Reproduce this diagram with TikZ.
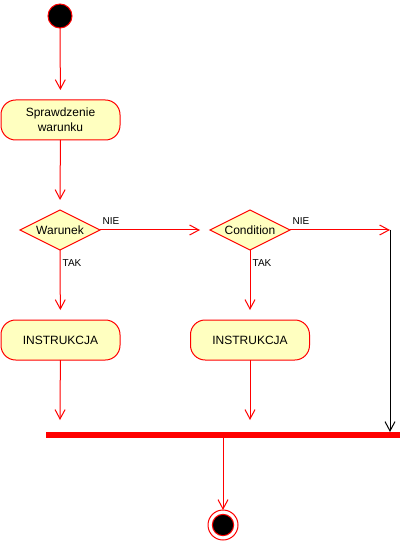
\documentclass[tikz,border=0pt]{standalone}
\usepackage{fontspec}
\setmainfont{Liberation Sans}
\usetikzlibrary{arrows.meta,shapes.geometric}
\definecolor{actfill}{HTML}{FFFFC0}
\definecolor{actred}{HTML}{FF0000}
\begin{document}
\begin{tikzpicture}[x=0.75pt,y=-0.75pt,
  every node/.style={inner sep=0pt,outer sep=0pt},
  flow/.style={draw=actred,line width=0.75pt,-{Straight Barb[length=7pt,width=7.5pt]}},
  gap/.style={shorten >=7.5pt},
  flowblack/.style={draw=black,line width=0.75pt,-{Straight Barb[length=7pt,width=7.5pt]}},
  activity/.style={rectangle,rounded corners=11pt,draw=actred,fill=actfill,line width=0.75pt,
     minimum width=89.25pt,minimum height=30pt,align=center,font=\fontsize{9pt}{11pt}\selectfont},
  decision/.style={diamond,draw=actred,fill=actfill,line width=0.75pt,
     minimum width=60pt,minimum height=30pt},
  dlabel/.style={font=\fontsize{9pt}{11pt}\selectfont},
  guard/.style={font=\fontsize{7.5pt}{9pt}\selectfont},
]
\useasboundingbox (0,0) rectangle (405,541);

\node[circle,fill=black,draw=actred,line width=0.75pt,minimum size=18pt] (start) at (60,16) {};
\node[activity] (check) at (60.5,120) {Sprawdzenie\\warunku};
\node[decision] (war) at (60,230) {};
\node[dlabel] at (war.center) {Warunek};
\node[decision] (cond) at (250,230) {};
\node[dlabel] at (cond.center) {Condition};
\node[activity] (ins1) at (60.5,340) {INSTRUKCJA};
\node[activity] (ins2) at (250,340) {INSTRUKCJA};
\node[rectangle,fill=actred,minimum width=265.5pt,minimum height=4.5pt] (bar) at (223,435) {};
\node[circle,draw=actred,fill=white,line width=0.75pt,minimum size=22.5pt] (end) at (223,525) {};
\node[circle,draw=actred,fill=black,line width=0.75pt,minimum size=16pt] (endin) at (end.center) {};

\coordinate (c1) at (60,420);
\coordinate (c2) at (250,420);
\coordinate (cr) at (390,230);

\draw[flow,gap] (start) -- (check);
\draw[flow,gap] (check) -- (war.north);
\draw[flow,gap] (war.east) -- (cond.west);
\draw[flow] (cond.east) -- (cr);
\draw[flowblack] (cr) -- (cr |- bar.north);
\draw[flow,gap] (war.south) -- (ins1);
\draw[flow,gap] (cond.south) -- (ins2);
\draw[flow] (ins1) -- (c1);
\draw[flow] (ins2) -- (c2);
\draw[flow] (bar.south) -- (end.north);

\node[guard] at (111,221) {NIE};
\node[guard] at (301,221) {NIE};
\node[guard] at (72,263) {TAK};
\node[guard] at (262,263) {TAK};
\end{tikzpicture}
\end{document}
